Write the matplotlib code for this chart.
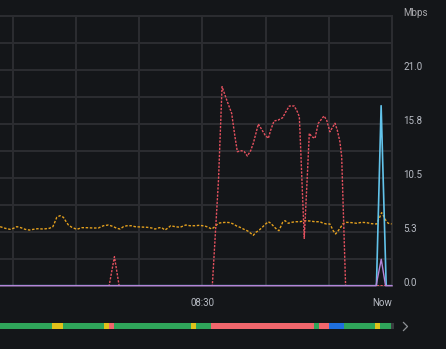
import matplotlib
matplotlib.use("Agg")
import matplotlib.pyplot as plt
from matplotlib.lines import Line2D
import numpy as np

plt.rcParams['font.family'] = ['Roboto', 'DejaVu Sans']

# time axis: minutes relative to 08:30, window 08:14 .. now (08:45)
t_min, t_max = -16.0, 15.0

# orange series (Mbps)
orange_t = [-15.99, -15.59, -15.20, -14.93, -14.67, -14.35, -14.01, -13.67, -13.36, -13.04,
            -12.57, -12.09, -11.82, -11.70, -11.51, -11.25, -10.99, -10.77, -10.59, -10.32,
            -9.93, -9.53, -9.14, -8.66, -8.22, -7.82, -7.43, -7.08, -6.76, -6.50,
            -6.24, -5.97, -5.63, -5.32, -4.92, -4.39, -4.00, -3.74, -3.40, -3.21,
            -2.95, -2.69, -2.50, -2.16, -1.76, -1.31, -0.97, -0.58, -0.24, 0.21,
            0.47, 0.74, 1.00, 1.26, 1.53, 1.87, 2.19, 2.45, 2.72, 2.98,
            3.30, 3.59, 3.77, 4.03, 4.24, 4.50, 4.74, 4.98, 5.22, 5.41,
            5.67, 5.88, 6.06, 6.20, 6.35, 6.54, 6.80, 7.07, 7.33, 7.72,
            8.12, 8.51, 8.91, 9.30, 9.56, 9.83, 10.09, 10.22, 10.35, 10.54,
            10.75, 10.94, 11.14, 11.41, 11.81, 12.20, 12.60, 12.99, 13.39, 13.78,
            13.99, 14.18, 14.30, 14.49, 14.70, 14.97]
orange_v = [5.74, 5.58, 5.48, 5.58, 5.74, 5.64, 5.48, 5.41, 5.48, 5.54,
            5.51, 5.58, 5.74, 6.07, 6.65, 6.81, 6.65, 6.22, 5.90, 5.68,
            5.48, 5.64, 5.64, 5.61, 5.61, 5.83, 5.90, 5.77, 5.58, 5.51,
            5.74, 5.83, 5.83, 5.74, 5.71, 5.68, 5.61, 5.51, 5.64, 5.64,
            5.41, 5.64, 5.83, 5.74, 5.68, 5.90, 5.83, 5.83, 5.87, 5.80,
            5.68, 5.51, 5.74, 6.07, 6.13, 6.16, 6.13, 6.00, 5.80, 5.68,
            5.48, 5.32, 5.15, 4.90, 5.19, 5.41, 5.68, 5.97, 6.22, 6.07,
            5.74, 5.48, 5.35, 5.74, 6.16, 6.32, 6.07, 6.16, 6.22, 6.22,
            6.32, 6.29, 6.22, 6.22, 6.07, 6.00, 6.00, 5.68, 5.35, 5.03,
            5.35, 5.68, 6.05, 6.16, 6.13, 6.07, 6.16, 6.13, 6.03, 6.00,
            6.55, 7.10, 6.87, 6.39, 6.07, 6.00]

# red series (Mbps)
red_t = [-16.0, -7.37, -6.95, -6.58, 0.79, 1.28, 1.56, 1.93, 2.32, 2.58,
         2.77, 3.11, 3.32, 3.56, 3.82, 4.03, 4.24, 4.43, 4.69, 4.96,
         5.22, 5.41, 5.67, 6.01, 6.35, 6.61, 6.88, 7.27, 7.51, 7.67,
         7.72, 8.06, 8.30, 8.46, 8.65, 8.91, 9.17, 9.62, 9.83, 10.09,
         10.49, 10.67, 10.88, 11.02, 11.33, 15.0]
red_v = [0.0, 0.0, 2.82, 0.0, 0.0, 10.3, 19.35, 18.05, 16.76, 14.49,
         13.03, 13.12, 13.03, 12.61, 13.12, 13.84, 14.82, 15.72, 15.20, 14.65,
         14.33, 15.14, 16.01, 16.11, 16.33, 16.92, 17.47, 17.47, 16.92, 16.43,
         15.10, 4.60, 10.60, 14.82, 14.49, 14.33, 15.79, 16.50, 16.11, 14.97,
         15.79, 15.14, 14.00, 12.54, 0.0, 0.0]

# blue and purple series (Mbps)
blue_t = [-16.0, 13.77, 14.14, 14.54, 15.0]
blue_v = [0.0, 0.0, 17.5, 0.0, 0.0]
purple_t = [-16.0, 13.74, 14.15, 14.49, 15.0]
purple_v = [0.0, 0.0, 2.57, 0.0, 0.0]

y_ticks = [0.0, 5.25, 10.5, 15.75, 21.0]
y_tick_labels = ['0.0', '5.3', '10.5', '15.8', '21.0']
y_top = 26.25

# state timeline below the chart
state_edges = [-16.0, -11.88, -11.01, -7.77, -7.37, -6.98, -0.89, -0.50, 0.69, 8.83,
               9.22, 10.01, 11.20, 13.65, 14.04, 14.91, 15.15]
state_names = ['ok', 'warn', 'ok', 'warn', 'crit', 'ok', 'warn', 'ok', 'crit', 'ok',
               'crit', 'info', 'ok', 'warn', 'ok', 'none']
state_colors = {'ok': '#2fa55a', 'warn': '#e0c21a', 'crit': '#f0666c',
                'info': '#1f6fde', 'none': '#3a3b3f'}

bg = '#141619'
grid_c = '#2c2d31'
text_c = '#b8bcc4'

W, H = 446, 349
fig = plt.figure(figsize=(W / 100, H / 100), dpi=100, facecolor=bg)

ax_l, ax_r, ax_top, ax_bot = 0, 392, 15.7, 285.7
ax = fig.add_axes([ax_l / W, 1 - ax_bot / H, (ax_r - ax_l) / W, (ax_bot - ax_top) / H])
ax.set_facecolor(bg)
ax.set_xlim(t_min, t_max)
ax.set_ylim(0, y_top)

ax.set_xticks(np.arange(-15, 15, 5))
ax.set_yticks(np.arange(0, y_top, y_top / 10))
ax.grid(True, color=grid_c, linewidth=1.4)
ax.tick_params(length=0, labelbottom=False, labelleft=False)
for s in ['left']:
    ax.spines[s].set_visible(False)
for s in ['top', 'right', 'bottom']:
    ax.spines[s].set_color(grid_c)
    ax.spines[s].set_linewidth(1.4)

ax.plot(orange_t, orange_v, color='#e3a01e', lw=1.0, dashes=(1.8, 1.2), zorder=3)
ax.plot(red_t, red_v, color='#e5515f', lw=1.0, dashes=(1.6, 1.0), zorder=3)
ax.plot(blue_t, blue_v, color='#62c3ea', lw=1.2, zorder=4)
ax.plot(purple_t, purple_v, color='#b585d8', lw=1.0, zorder=5, clip_on=False)

for v, lab in zip(y_ticks, y_tick_labels):
    ax.annotate(lab, xy=(1, v), xycoords=('axes fraction', 'data'), xytext=(8.2, 2.2),
                textcoords='offset points', ha='left', va='center', fontsize=7, color=text_c)
ax.annotate('Mbps', xy=(1, y_top), xycoords=('axes fraction', 'data'), xytext=(8.2, 2.2),
            textcoords='offset points', ha='left', va='center', fontsize=7, color='#a9a9ad')

ax.annotate('08:30', xy=(0, 0), xycoords=('data', 'axes fraction'), xytext=(0, -12.3),
            textcoords='offset points', ha='center', va='center', fontsize=7, color=text_c)
ax.annotate('Now', xy=(t_max, 0), xycoords=('data', 'axes fraction'), xytext=(0, -12.3),
            textcoords='offset points', ha='right', va='center', fontsize=7, color=text_c)

# state bar
sb = fig.add_axes([ax_l / W, 1 - 329 / H, (ax_r - ax_l) / W, 6 / H])
sb.set_xlim(t_min, t_max)
sb.set_ylim(0, 1)
sb.axis('off')
for a, b, name in zip(state_edges[:-1], state_edges[1:], state_names):
    sb.barh(0.5, b - a, left=a, height=1, color=state_colors[name], lw=0, clip_on=False)

fig.add_artist(Line2D([403.5 / W, 407.5 / W, 403.5 / W],
                      [1 - 322.5 / H, 1 - 326.5 / H, 1 - 330.5 / H],
                      color='#8e9196', lw=0.9))

fig.savefig('out.png', dpi=100, facecolor=bg)
